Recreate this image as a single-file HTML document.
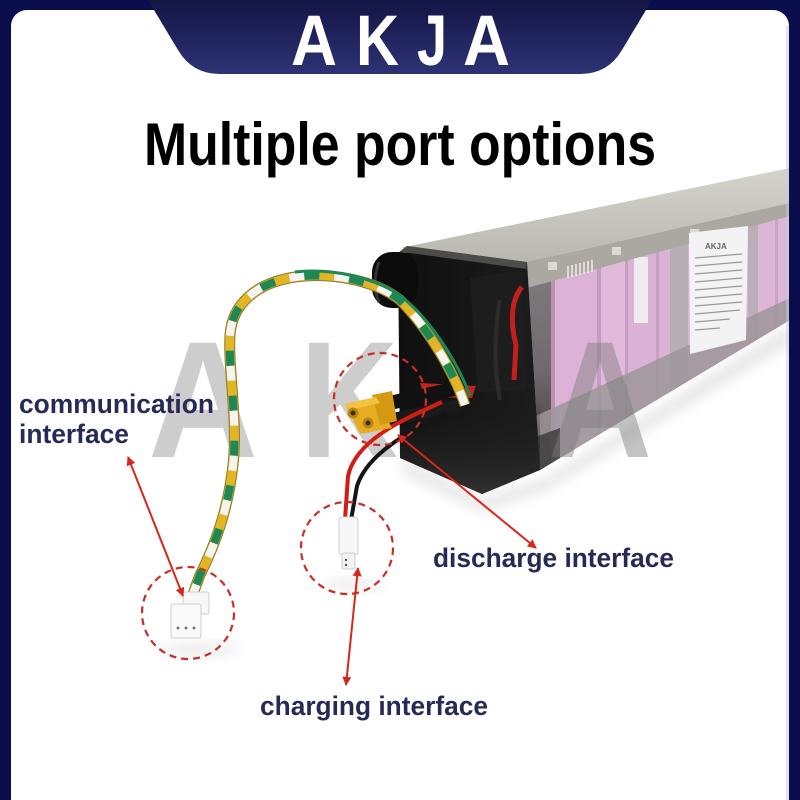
<!DOCTYPE html>
<html><head><meta charset="utf-8"><style>
html,body{margin:0;padding:0;background:#fff;}
svg{display:block;}
text{font-family:"Liberation Sans",sans-serif;}
</style></head><body>
<svg width="800" height="800" viewBox="0 0 800 800" xmlns="http://www.w3.org/2000/svg">
<defs>
  <linearGradient id="bannerG" x1="0" y1="0" x2="0" y2="1">
    <stop offset="0" stop-color="#131545"/><stop offset="1" stop-color="#2d3274"/>
  </linearGradient>
  <linearGradient id="topG" x1="0" y1="0" x2="0" y2="1">
    <stop offset="0" stop-color="#d4d4cc"/><stop offset="1" stop-color="#b8b8b0"/>
  </linearGradient>
  <linearGradient id="frontG" x1="0" y1="0" x2="0" y2="1">
    <stop offset="0" stop-color="#8c8789"/><stop offset="0.6" stop-color="#6f6a6d"/><stop offset="1" stop-color="#2e2c2d"/>
  </linearGradient>
  <linearGradient id="capG" x1="0" y1="0" x2="1" y2="0">
    <stop offset="0" stop-color="#101010"/><stop offset="1" stop-color="#1c1c1c"/>
  </linearGradient>
  <linearGradient id="capBotG" x1="0" y1="0" x2="0" y2="1">
    <stop offset="0" stop-color="#1a1a1a" stop-opacity="0"/><stop offset="1" stop-color="#303030"/>
  </linearGradient>
  <clipPath id="sideClip"><polygon points="527,262 790,203 790,320 540,470"/></clipPath>
  <filter id="blur6" x="-20%" y="-20%" width="140%" height="140%"><feGaussianBlur stdDeviation="6"/></filter>
  <marker id="ah" viewBox="0 0 10 10" refX="9" refY="5" markerWidth="10" markerHeight="9" markerUnits="userSpaceOnUse" orient="auto-start-reverse">
    <path d="M0,0 L10,5 L0,10 z" fill="#d8261c"/>
  </marker>
</defs>

<rect x="0" y="0" width="800" height="800" fill="#ffffff"/>

<!-- title -->
<text x="144" y="165" font-size="60" font-weight="bold" fill="#000" textLength="512" lengthAdjust="spacingAndGlyphs">Multiple port options</text>

<!-- ground shadows -->
<polygon points="400,455 480,498 545,478 790,325 790,345 545,492 480,512 405,475" fill="#e2e2e2" filter="url(#blur6)" opacity="0.8"/>
<ellipse cx="200" cy="650" rx="40" ry="8" fill="#efefef" filter="url(#blur6)"/>
<ellipse cx="355" cy="585" rx="30" ry="7" fill="#efefef" filter="url(#blur6)"/>

<!-- battery top face -->
<polygon points="400,248 790,168 790,203 527,262" fill="url(#topG)"/>

<!-- battery side face -->
<g clip-path="url(#sideClip)">
  <rect x="520" y="190" width="280" height="300" fill="#dab2d5"/>
  <rect x="527" y="190" width="24" height="300" fill="url(#frontG)"/>
  <rect x="551" y="190" width="4" height="300" fill="#b793ae"/>
  <rect x="555" y="190" width="42" height="300" fill="#dcb3d7"/>
  <rect x="597" y="190" width="4" height="300" fill="#c39cbf"/>
  <rect x="601" y="190" width="24" height="300" fill="#e1badb"/>
  <rect x="625" y="190" width="3" height="300" fill="#c79fc2"/>
  <rect x="634" y="257" width="14" height="66" fill="#efebee"/>
  <rect x="656" y="190" width="3" height="300" fill="#c79fc2"/>
  <rect x="670" y="190" width="18" height="300" fill="#b7adb4"/>
  <rect x="748" y="190" width="10" height="300" fill="#b9afb5"/>
  <rect x="758" y="190" width="32" height="300" fill="#dcb6d6"/>
  <rect x="775" y="190" width="3" height="300" fill="#cba5c6"/>
  <polygon points="527,262 790,203 790,216 527,288" fill="#aaa8a1"/>
  <g fill="#dadad3"><rect x="548" y="262" width="9" height="8"/><rect x="612" y="247" width="9" height="8"/><rect x="690" y="229" width="9" height="8"/></g>
  <g stroke="#eeeeee" stroke-width="1.5"><line x1="568" y1="266" x2="568" y2="278"/><line x1="572" y1="265" x2="572" y2="277"/><line x1="576" y1="264" x2="576" y2="276"/><line x1="580" y1="263" x2="580" y2="275"/><line x1="584" y1="262" x2="584" y2="274"/><line x1="588" y1="261" x2="588" y2="273"/><line x1="592" y1="260" x2="592" y2="272"/></g>
  <polygon points="527,420 790,298 790,322 540,472" fill="#9d979a" opacity="0.85"/>
  <polygon points="527,440 560,428 560,470 527,480" fill="#3a3839" opacity="0.8"/>
  <polygon points="689,233 748,226 746,340 690,354" fill="#f3f3f3"/>
  <text x="705" y="249" font-size="8" font-weight="bold" fill="#666">AKJA</text>
  <g stroke="#9a9a9a" stroke-width="1.2">
    <line x1="695" y1="258" x2="742" y2="254"/><line x1="695" y1="266" x2="742" y2="262"/>
    <line x1="695" y1="274" x2="742" y2="270"/><line x1="695" y1="282" x2="742" y2="278"/>
    <line x1="695" y1="290" x2="742" y2="286"/><line x1="695" y1="298" x2="742" y2="294"/>
    <line x1="695" y1="306" x2="742" y2="302"/><line x1="695" y1="314" x2="740" y2="310"/>
    <line x1="695" y1="322" x2="730" y2="319"/><line x1="695" y1="330" x2="720" y2="328"/>
  </g>
</g>

<!-- front black cap -->
<polygon points="398,253 407,246 527,262 540,470 482,494 400,458" fill="url(#capG)"/>
<polygon points="400,400 540,405 540,470 482,494 400,458" fill="url(#capBotG)"/>
<polygon points="470,278 522,270 526,390 478,392" fill="#1d1d1d"/>
<polygon points="398,253 407,246 527,262 526,269 410,253" fill="#5a5a57" opacity="0.8"/>
<path d="M500 300 C494 330, 494 370, 500 400" stroke="#2c2c2c" stroke-width="4" fill="none"/>
<rect x="372" y="252" width="46" height="56" rx="20" fill="#0b0b0b"/>
<path d="M379 262 Q371 285 379 302" stroke="#333" stroke-width="3" fill="none"/>
<path d="M522 287 C511 300, 510 322, 516 345 L514 380" stroke="#c31f1f" stroke-width="5" fill="none"/>
<polygon points="420,383 476,386 472,398 424,397" fill="#c22020"/>

<!-- watermark -->
<g font-size="166" font-weight="bold" fill="#9c9c9c" opacity="0.5">
  <text x="148" y="457" textLength="110" lengthAdjust="spacingAndGlyphs">A</text>
  <text x="300" y="457" textLength="98" lengthAdjust="spacingAndGlyphs">K</text>
</g>
<text x="548" y="457" font-size="166" font-weight="bold" fill="#7c7c7c" opacity="0.45" textLength="104" lengthAdjust="spacingAndGlyphs">A</text>

<!-- XT cables -->
<path d="M385 404 L458 388" stroke="#111" stroke-width="14" stroke-linecap="round" fill="none"/>
<path d="M388 420 L455 406" stroke="#1a1a1a" stroke-width="12" stroke-linecap="round" fill="none"/>

<!-- charging wires -->
<path d="M442 402 C402 420, 356 440, 348 476 L345 520" stroke="#d21c14" stroke-width="4" fill="none"/>
<path d="M447 412 C410 432, 368 452, 357 486 L351 520" stroke="#151515" stroke-width="4" fill="none"/>

<!-- XT connector -->
<polygon points="345,404 376,397 392,428 360,434" fill="#e6ad22"/>
<polygon points="372,395 392,391 397,421 380,425" fill="#d69a12"/>
<polygon points="345,404 376,397 380,403 349,410" fill="#f2c242"/>
<circle cx="353" cy="413" r="5.5" fill="#b9850f"/><circle cx="353" cy="413" r="2.5" fill="#3a2a0c"/>
<circle cx="368" cy="423" r="5.5" fill="#b9850f"/><circle cx="368" cy="423" r="2.5" fill="#3a2a0c"/>

<!-- twisted communication bundle -->
<g fill="none" stroke-linecap="butt">
  <path d="M465 405 C455 375, 430 330, 400 300 C375 280, 330 272, 295 277 C255 283, 232 305, 230 335 C228 370, 238 420, 233 465 C228 510, 215 545, 200 575 L190 602" stroke="#8a7a30" stroke-width="11"/>
  <path d="M465 405 C455 375, 430 330, 400 300 C375 280, 330 272, 295 277 C255 283, 232 305, 230 335 C228 370, 238 420, 233 465 C228 510, 215 545, 200 575 L190 602" stroke="#e2b526" stroke-width="9"/>
  <path d="M465 405 C455 375, 430 330, 400 300 C375 280, 330 272, 295 277 C255 283, 232 305, 230 335 C228 370, 238 420, 233 465 C228 510, 215 545, 200 575 L190 602" stroke="#f4f4f0" stroke-width="8" stroke-dasharray="15 30"/>
  <path d="M465 405 C455 375, 430 330, 400 300 C375 280, 330 272, 295 277 C255 283, 232 305, 230 335 C228 370, 238 420, 233 465 C228 510, 215 545, 200 575 L190 602" stroke="#1d8853" stroke-width="8" stroke-dasharray="15 30" stroke-dashoffset="15"/>
  <path d="M470 396 C457 360, 428 316, 398 294 C372 277, 330 268, 295 272" stroke="#1d8853" stroke-width="3"/>
</g>

<!-- communication connector -->
<rect x="183" y="592" width="26" height="22" rx="2" fill="#f7f7f7" stroke="#cfcfcf" stroke-width="1"/>
<rect x="171" y="604" width="30" height="34" rx="2" fill="#fafafa" stroke="#cccccc" stroke-width="1"/>
<circle cx="178" cy="628" r="1.5" fill="#777"/><circle cx="186" cy="628" r="1.5" fill="#777"/><circle cx="194" cy="628" r="1.5" fill="#777"/>

<!-- charging connector -->
<rect x="339" y="517" width="19" height="38" rx="3" fill="#f7f7f7" stroke="#cfcfcf" stroke-width="1"/>
<rect x="342" y="553" width="13" height="16" rx="2" fill="#f2f2f2" stroke="#cccccc" stroke-width="1"/>
<circle cx="346" cy="560" r="1.2" fill="#555"/><circle cx="346" cy="565" r="1.2" fill="#555"/>

<!-- dashed circles -->
<g fill="none" stroke="#c62e28" stroke-width="2.2" stroke-dasharray="7 5">
  <circle cx="188" cy="613" r="46"/>
  <circle cx="347" cy="548" r="46"/>
  <circle cx="380" cy="399" r="46"/>
</g>

<!-- arrows -->
<g stroke="#d8261c" stroke-width="2" fill="none">
  <line x1="128" y1="457" x2="183" y2="596" marker-start="url(#ah)" marker-end="url(#ah)"/>
  <line x1="358" y1="568" x2="346" y2="685" marker-start="url(#ah)" marker-end="url(#ah)"/>
  <line x1="398" y1="435" x2="536" y2="548" marker-start="url(#ah)" marker-end="url(#ah)"/>
</g>

<!-- labels -->
<g font-size="27" font-weight="bold" fill="#262a56">
  <text x="19" y="413" textLength="195" lengthAdjust="spacingAndGlyphs">communication</text>
  <text x="19" y="443" textLength="110" lengthAdjust="spacingAndGlyphs">interface</text>
  <text x="433" y="567" textLength="241" lengthAdjust="spacingAndGlyphs">discharge interface</text>
  <text x="260" y="715" textLength="228" lengthAdjust="spacingAndGlyphs">charging interface</text>
</g>

<!-- frame (on top) -->
<path fill-rule="evenodd" fill="#0b0e4d" d="M0 0 H800 V800 H0 Z M27 10 H773 A16 16 0 0 1 789 26 V800 H11 V26 A16 16 0 0 1 27 10 Z"/>
<rect x="786" y="26" width="3" height="774" fill="#c9ccd8" opacity="0.5"/>

<!-- banner -->
<path d="M148 0 L652 0 L622 50 Q608 74 580 74 L220 74 Q192 74 178 50 Z" fill="url(#bannerG)"/>
<g fill="#ffffff" font-size="71" font-weight="bold">
  <text x="291" y="65" textLength="46" lengthAdjust="spacingAndGlyphs">A</text>
  <text x="356" y="65" textLength="43" lengthAdjust="spacingAndGlyphs">K</text>
  <text x="417" y="65" textLength="30" lengthAdjust="spacingAndGlyphs">J</text>
  <text x="463" y="65" textLength="47" lengthAdjust="spacingAndGlyphs">A</text>
</g>
</svg>
</body></html>
